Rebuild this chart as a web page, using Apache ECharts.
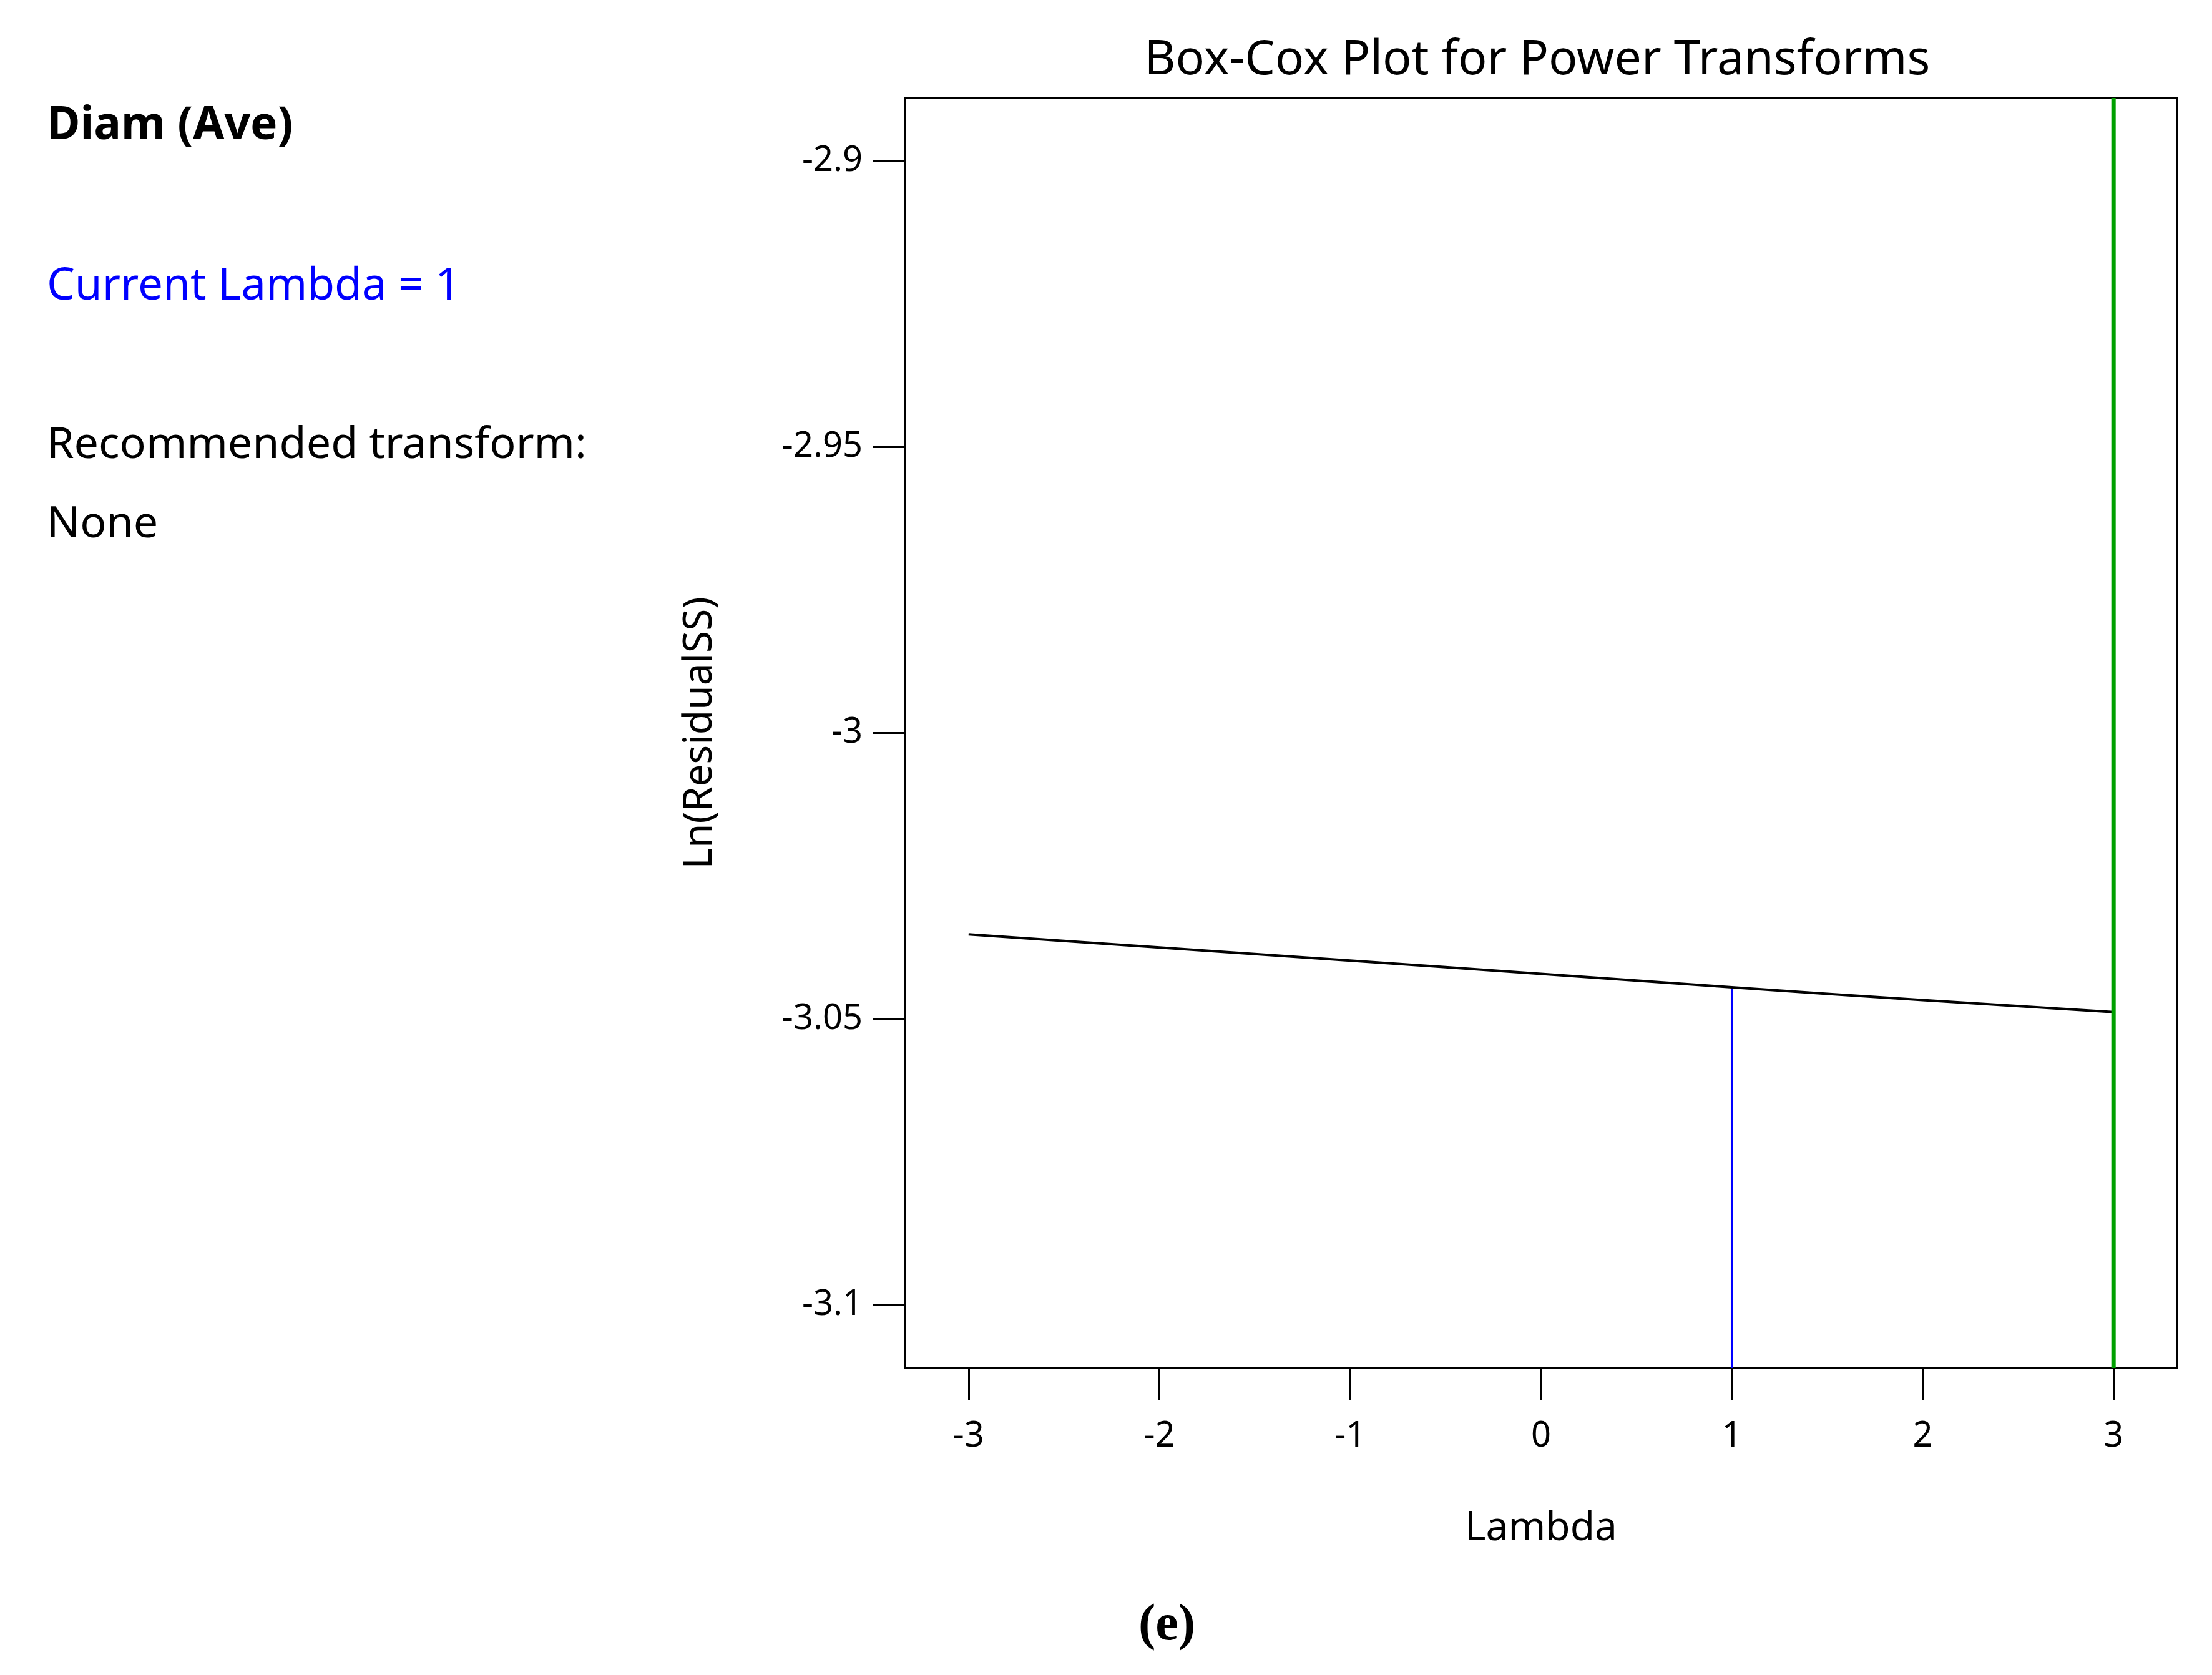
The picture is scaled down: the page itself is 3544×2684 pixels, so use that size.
<!DOCTYPE html>
<html>
<head>
<meta charset="utf-8">
<title>Box-Cox Plot</title>
<script src="https://cdn.jsdelivr.net/npm/echarts@6/dist/echarts.min.js"></script>
<style>
  html, body { margin: 0; padding: 0; background: #fff; }
  #chart { width: 3544px; height: 2684px; }
</style>
</head>
<body>
<div id="chart"></div>
<script>
  // values
  const lambdas = [-3, -2, -1, 0, 1, 2, 3];
  const lnRss = [-3.0352, -3.0375, -3.0398, -3.0421, -3.04445, -3.0467, -3.0488];
  const xTicks = [-3, -2, -1, 0, 1, 2, 3];
  const yTicks = [-3.1, -3.05, -3, -2.95, -2.9];
  const xRange = [-3.333, 3.333];
  const yRange = [-3.111, -2.889];
  const currentLambda = 1;
  const bestLambda = 3;

  const font = 'Noto Sans';
  let myChart = echarts.init(document.getElementById('chart'));

  let curve = lambdas.map((l, i) => [l, lnRss[i]]);
  let currentY = lnRss[lambdas.indexOf(currentLambda)];

  myChart.setOption({
    backgroundColor: '#fff',
    animation: false,
    title: {
      text: 'Box-Cox Plot for Power Transforms',
      left: 2463,
      top: 59,
      padding: 0,
      textAlign: 'center',
      textStyle: { fontFamily: font, fontSize: 77, fontWeight: 'normal', color: '#000' }
    },
    grid: {
      left: 1450, top: 157, width: 2038, height: 2035,
      show: true, borderColor: '#000', borderWidth: 3
    },
    xAxis: {
      type: 'value',
      min: xRange[0], max: xRange[1],
      name: 'Lambda',
      nameLocation: 'middle',
      nameGap: 226,
      nameTextStyle: { fontFamily: font, fontSize: 64, color: '#000' },
      axisLine: { show: true, onZero: false, lineStyle: { color: '#000', width: 3 } },
      axisTick: { show: true, length: 51, lineStyle: { color: '#000', width: 3 }, customValues: xTicks },
      axisLabel: { fontFamily: font, fontSize: 56, color: '#000', margin: 82, customValues: xTicks },
      splitLine: { show: false }
    },
    yAxis: {
      type: 'value',
      min: yRange[0], max: yRange[1],
      name: 'Ln(ResidualSS)',
      nameLocation: 'middle',
      nameRotate: 90,
      nameGap: 296,
      nameTextStyle: { fontFamily: font, fontSize: 64, color: '#000' },
      axisLine: { show: true, onZero: false, lineStyle: { color: '#000', width: 3 } },
      axisTick: { show: true, length: 51, lineStyle: { color: '#000', width: 3 }, customValues: yTicks },
      axisLabel: { fontFamily: font, fontSize: 56, color: '#000', margin: 68, customValues: yTicks },
      splitLine: { show: false }
    },
    series: [
      {
        name: 'Ln(ResidualSS)',
        type: 'line',
        data: curve,
        smooth: true,
        showSymbol: false,
        lineStyle: { color: '#000', width: 4 },
        z: 3
      },
      {
        name: 'Current Lambda',
        type: 'line',
        data: [[currentLambda, yRange[0]], [currentLambda, currentY]],
        showSymbol: false,
        lineStyle: { color: '#0000ff', width: 3.5 },
        z: 2
      },
      {
        name: 'Best Lambda',
        type: 'line',
        data: [[bestLambda, yRange[0]], [bestLambda, yRange[1]]],
        showSymbol: false,
        lineStyle: { color: '#00a000', width: 7 },
        z: 4
      }
    ],
    graphic: [
      { type: 'text', left: 75, top: 166, style: { text: 'Diam (Ave)', font: 'bold 73px "Noto Sans"', fill: '#000' } },
      { type: 'text', left: 75, top: 424, style: { text: 'Current Lambda = 1', font: '71px "Noto Sans"', fill: '#0000ff' } },
      { type: 'text', left: 75, top: 679, style: { text: 'Recommended transform:', font: '70px "Noto Sans"', fill: '#000' } },
      { type: 'text', left: 75, top: 806, style: { text: 'None', font: '70px "Noto Sans"', fill: '#000' } },
      { type: 'text', left: 1824, top: 2565, style: { text: '(e)', font: 'bold 82px "Liberation Serif"', fill: '#000' } }
    ]
  });
</script>
</body>
</html>
